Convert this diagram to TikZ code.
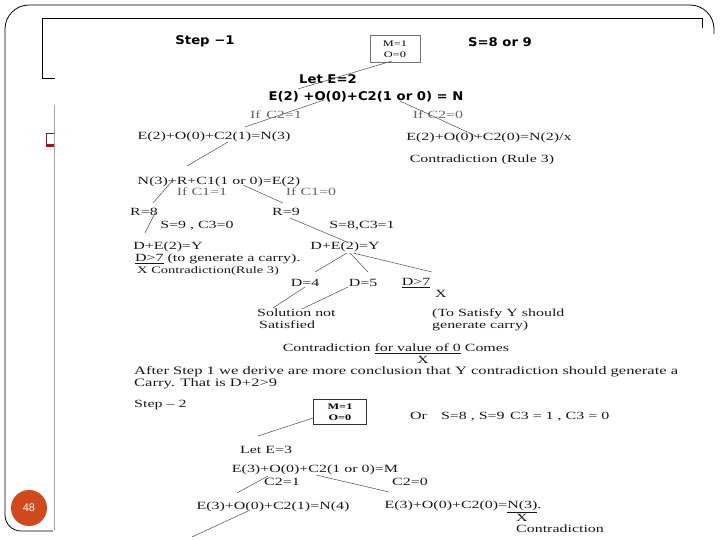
\documentclass[tikz,border=0pt]{standalone}
\usepackage{fontspec}
\setmainfont{Liberation Serif}
\newfontfamily\scanfont[FakeStretch=1.45]{Liberation Serif}
\newfontfamily\headfont[FakeStretch=1.1]{DejaVu Sans}
\newfontfamily\slidefont{Liberation Sans}
\definecolor{SlideOrange}{HTML}{D2491C}
\definecolor{SlideRed}{HTML}{A3121B}
\tikzset{
  txt/.style={inner sep=0pt, text=black!90, font=\scanfont\fontsize{11}{12}\selectfont},
  cond/.style={txt, text=black!60},
  head/.style={inner sep=0pt, font=\headfont\bfseries\fontsize{12}{14}\selectfont},
  valbox/.style={draw=black!55, line width=0.6pt, align=center, inner sep=0pt,
    minimum width=50pt, minimum height=27pt, font=\scanfont\fontsize{8.5}{11}\selectfont},
  link/.style={draw=black!70, line width=0.5pt},
  frame/.style={line width=0.8pt},
}

\begin{document}
\begin{tikzpicture}[x=1pt,y=-1pt]
  \useasboundingbox (0,0) rectangle (720,540);
  % slide frame
  \draw[frame] [rounded corners=16pt] (53,531) -- (5,531) [rounded corners=24pt] -- (5,5) -- (714,5) -- (714,34);
  \draw[frame] (55,78) -- (42,78) -- (42,18) -- (702,18) -- (702,28);
  \draw[black!35, line width=0.6pt] (54,105) -- (54,530);
  \draw[SlideRed, line width=0.8pt] (54,133) -- (46,133) -- (46,146) -- (54,146);
  \fill[SlideRed] (46,144) rectangle (54,147);
  \node[circle, fill=SlideOrange, minimum size=36pt, inner sep=0pt, text=white,
    font=\slidefont\fontsize{11}{11}\selectfont] (pagenum) at (29,508) {48};

  % step 1
  \node[head] (step1) at (205,41) {Step −1};
  \node[valbox] (box1) at (395,49) {M=1\\O=0};
  \node[head] (s89) at (500,42) {S=8 or 9};
  \node[head] (lete2) at (328,79) {Let E=2};
  \node[head] (eq1) at (366,97) {E(2) +O(0)+C2(1 or 0) = N};
  \node[cond] (ifc21) at (276,115) {If\enspace C2=1};
  \node[cond] (ifc20) at (438,115) {If C2=0};
  \node[txt] (n3eq) at (214,137) {E(2)+O(0)+C2(1)=N(3)};
  \node[txt] (n2eq) at (489,138) {E(2)+O(0)+C2(0)=N(2)/x};
  \node[txt] (contra1) at (482,160) {Contradiction (Rule 3)};
  \node[txt] (c1eq) at (219,182) {N(3)+R+C1(1 or 0)=E(2)};
  \node[cond] (ifc11) at (202,192) {If C1=1};
  \node[cond] (ifc10) at (311,192) {If C1=0};
  \node[txt] (r8) at (144,212) {R=8};
  \node[txt] (r9) at (286,212) {R=9};
  \node[txt] (s9) at (197,226) {S=9 , C3=0};
  \node[txt] (s8) at (362,226) {S=8,C3=1};
  \node[txt] (dey1) at (168,247) {D+E(2)=Y};
  \node[txt] (dey2) at (345,247) {D+E(2)=Y};
  \node[txt, anchor=west] (carry) at (135,259) {\underline{D>7} (to generate a carry).};
  \node[txt, anchor=west, font=\scanfont\fontsize{10}{12}\selectfont] (xcon) at (137,271) {X Contradiction(Rule 3)};
  \node[txt] (d4) at (305,283) {D=4};
  \node[txt] (d5) at (363,283) {D=5};
  \node[txt] (dgt7) at (416,283) {\underline{D>7}};
  \node[txt] (x1) at (441,294) {X};
  \node[txt, align=left, anchor=north west] (sol) at (257,309) {Solution not\\\hspace{2pt}Satisfied};
  \node[txt, align=left, anchor=north west] (sat) at (432,309) {(To Satisfy Y should\\generate carry)};
  \node[txt] (contra2) at (396,349) {Contradiction \underline{for value of 0} Comes};
  \node[txt] (x2) at (423,360) {X};
  \node[txt, align=left, anchor=north west, font=\scanfont\fontsize{11.4}{12}\selectfont] (after) at (134,366)
    {After Step 1 we derive are more conclusion that Y contradiction should generate a\\Carry. That is D+2>9};

  % step 2
  \node[txt, anchor=west] (step2) at (134,405) {Step – 2};
  \node[valbox, draw=black!80, minimum width=53pt, minimum height=25pt,
    font=\scanfont\bfseries\fontsize{8.5}{11}\selectfont] (box2) at (340,412) {M=1\\O=0};
  \node[txt, anchor=west] (orline) at (410,417) {Or\hspace{14pt}S=8 , S=9\enspace C3 = 1 , C3 = 0};
  \node[txt] (lete3) at (266,450) {Let E=3};
  \node[txt] (eq3) at (315,470) {E(3)+O(0)+C2(1 or 0)=M};
  \node[txt] (c21) at (282,482) {C2=1};
  \node[txt] (c20) at (410,482) {C2=0};
  \node[txt] (n4) at (273,507) {E(3)+O(0)+C2(1)=N(4)};
  \node[txt] (n3b) at (463,507) {E(3)+O(0)+C2(0)=\underline{N(3)}.};
  \node[txt] (x3) at (522,518) {X};
  \node[txt, anchor=west] (contra3) at (516,529) {Contradiction};
  \coordinate (tail) at (192,537);

  % branches
  \draw[link] ([shift={(-3,12)}]box1.center) -- ([shift={(-30,10)}]lete2.center);
  \draw[link] ([shift={(-42,3)}]eq1.center) -- ([shift={(31,-10)}]n3eq.center);
  \draw[link] ([shift={(34,4)}]eq1.center) -- ([shift={(-13,-2)}]n2eq.center);
  \draw[link] ([shift={(14,5)}]n3eq.center) -- ([shift={(-32,-16)}]c1eq.center);
  \draw[link] ([shift={(-46,-2)}]c1eq.center) -- ([shift={(9,-9)}]r8.center);
  \draw[link] ([shift={(24,3)}]c1eq.center) -- ([shift={(-3,-9)}]r9.center);
  \draw[link] ([shift={(11,1)}]r8.center) -- ([shift={(-23,-14)}]dey1.center);
  \draw[link] ([shift={(4,6)}]r9.center) -- ([shift={(2,-5)}]dey2.center);
  \draw[link] ([shift={(2,6)}]dey2.center) -- ([shift={(10,-11)}]d4.center);
  \draw[link] ([shift={(5,6)}]dey2.center) -- ([shift={(5,-11)}]d5.center);
  \draw[link] ([shift={(8,6)}]dey2.center) -- ([shift={(16,-11)}]dgt7.center);
  \draw[link] ([shift={(0,4)}]d4.center) -- ([shift={(16,-1)}]sol.north west);
  \draw[link] ([shift={(-15,4)}]d5.center) -- ([shift={(45,0)}]sol.north west);
  \draw[link] ([shift={(-27,6)}]box2.center) -- ([shift={(-8,-14)}]lete3.center);
  \draw[link] ([shift={(-47,6)}]eq3.center) -- ([shift={(-36,-14)}]n4.center);
  \draw[link] ([shift={(1,5)}]eq3.center) -- ([shift={(-74,-15)}]n3b.center);
  \draw[link] ([shift={(-25,4)}]n4.center) -- (tail);
\end{tikzpicture}
\end{document}
